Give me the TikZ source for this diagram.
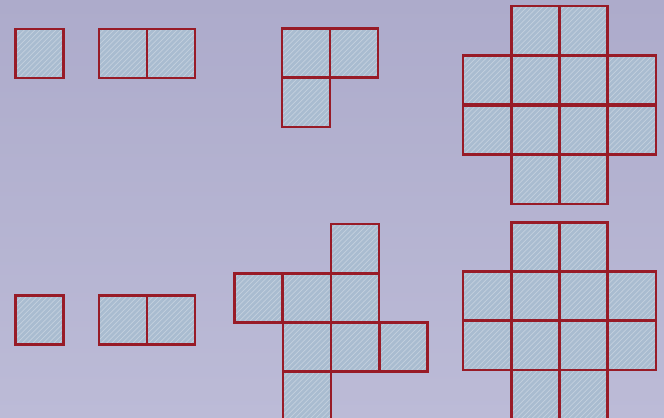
\documentclass[tikz,border=0pt]{standalone}
\usetikzlibrary{patterns}

\definecolor{bgtop}{HTML}{ADABCB}
\definecolor{bgmid}{HTML}{C1C0D9}
\definecolor{bgbot}{HTML}{BCBBD7}
\definecolor{cellfill}{HTML}{A9BCD0}
\definecolor{cellline}{HTML}{981B27}

\begin{document}
\begin{tikzpicture}[
x=0.02cm, y=-0.02cm,
cell/.style={draw=cellline, line width=1.4pt,
  preaction={fill=cellfill},
  pattern=north east lines, pattern color=white!30!cellfill,
  minimum width=0.96cm, minimum height=0.98cm, inner sep=0pt, outer sep=0pt} ]

\useasboundingbox (0,0) rectangle (664,418);
\clip (0,0) rectangle (664,418);
\shade[top color=bgtop, middle color=bgmid, bottom color=bgbot] (0,0) rectangle (664,418);

% upper row
\node[cell](ta) at (39.5,53.5) {};

\node[cell](tb1) at (123,53.5) {};
\node[cell](tb2) at (171,53.5) {};

\node[cell](tc1) at (306,53) {};
\node[cell](tc2) at (354,53) {};
\node[cell](tc3) at (306,102.5) {};

\foreach \c/\r in {1/0,2/0,0/1,1/1,2/1,3/1,0/2,1/2,2/2,3/2,1/3,2/3}
  \node[cell](td-\c-\r) at (487+48.3*\c, 30.5+49.7*\r) {};

% lower row
\node[cell](ba) at (39.5,320) {};

\node[cell](bb1) at (123,320) {};
\node[cell](bb2) at (171,320) {};

\foreach \c/\r in {2/0,0/1,1/1,2/1,1/2,2/2,3/2,1/3}
  \node[cell](bc-\c-\r) at (258.5+48.3*\c, 248.5+49.3*\r) {};

\foreach \c/\r in {1/0,2/0,0/1,1/1,2/1,3/1,0/2,1/2,2/2,3/2,1/3,2/3}
  \node[cell](bd-\c-\r) at (487+48.3*\c, 247+49.2*\r) {};

\end{tikzpicture}
\end{document}
